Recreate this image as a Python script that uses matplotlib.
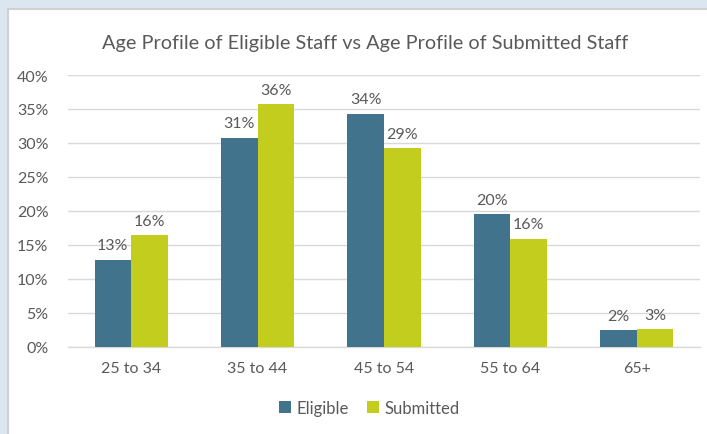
import matplotlib.pyplot as plt
import numpy as np
from matplotlib.patches import Rectangle

categories = ['25 to 34', '35 to 44', '45 to 54', '55 to 64', '65+']
eligible = [12.8, 30.8, 34.3, 19.5, 2.5]
submitted = [16.4, 35.7, 29.2, 15.9, 2.6]

plt.rcParams['font.family'] = ['Lato', 'DejaVu Sans']
text_col = '#595959'

fig = plt.figure(figsize=(7.07, 4.35), dpi=100)
fig.patch.set_facecolor('#DCE6F1')
# white chart area with thin grey border (only top/left edges visible)
fig.patches.append(Rectangle((8 / 707, -0.05), 1.1, 1.05 - 10 / 435, transform=fig.transFigure,
                             facecolor='white', edgecolor='#D0D0D0', linewidth=1.5, zorder=-10))

ax = fig.add_axes([68 / 707, 87 / 435, 632 / 707, 272 / 435])
ax.set_facecolor('none')

x = np.arange(len(categories))
w = 0.29
b1 = ax.bar(x - w / 2, eligible, w, color='#41738C', label='Eligible', zorder=3)
b2 = ax.bar(x + w / 2, submitted, w, color='#C3CD1E', label='Submitted', zorder=3)

for bars, vals in ((b1, eligible), (b2, submitted)):
    for rect, v in zip(bars, vals):
        ax.text(rect.get_x() + rect.get_width() / 2, v + 1.1, f'{round(v):.0f}%',
                ha='center', va='bottom', fontsize=11.5, color=text_col)

ax.set_xlim(-0.5, len(categories) - 0.5)
ax.set_ylim(0, 40)
ax.set_yticks(range(0, 41, 5))
ax.set_yticklabels([f'{t}%' for t in range(0, 41, 5)])
ax.set_xticks(x)
ax.set_xticklabels(categories)
ax.tick_params(axis='both', length=0, labelsize=11.5, labelcolor=text_col)
ax.tick_params(axis='y', pad=14)
ax.tick_params(axis='x', pad=10)
ax.grid(axis='y', color='#D9D9D9', linewidth=1, zorder=0)
for s in ['top', 'right', 'left']:
    ax.spines[s].set_visible(False)
ax.spines['bottom'].set_color('#D9D9D9')
ax.spines['bottom'].set_linewidth(1)

fig.text(0.516, 1 - 43 / 435, 'Age Profile of Eligible Staff vs Age Profile of Submitted Staff',
         ha='center', va='center', fontsize=14.3, color=text_col)

fig.legend(handles=[b1, b2], loc='center', bbox_to_anchor=(0.522, 1 - 409 / 435), ncol=2,
           frameon=False, fontsize=12, labelcolor=text_col, handlelength=0.75, handleheight=0.75,
           handletextpad=0.3, columnspacing=1.1)

plt.savefig('out.png', dpi=100, facecolor=fig.get_facecolor())
